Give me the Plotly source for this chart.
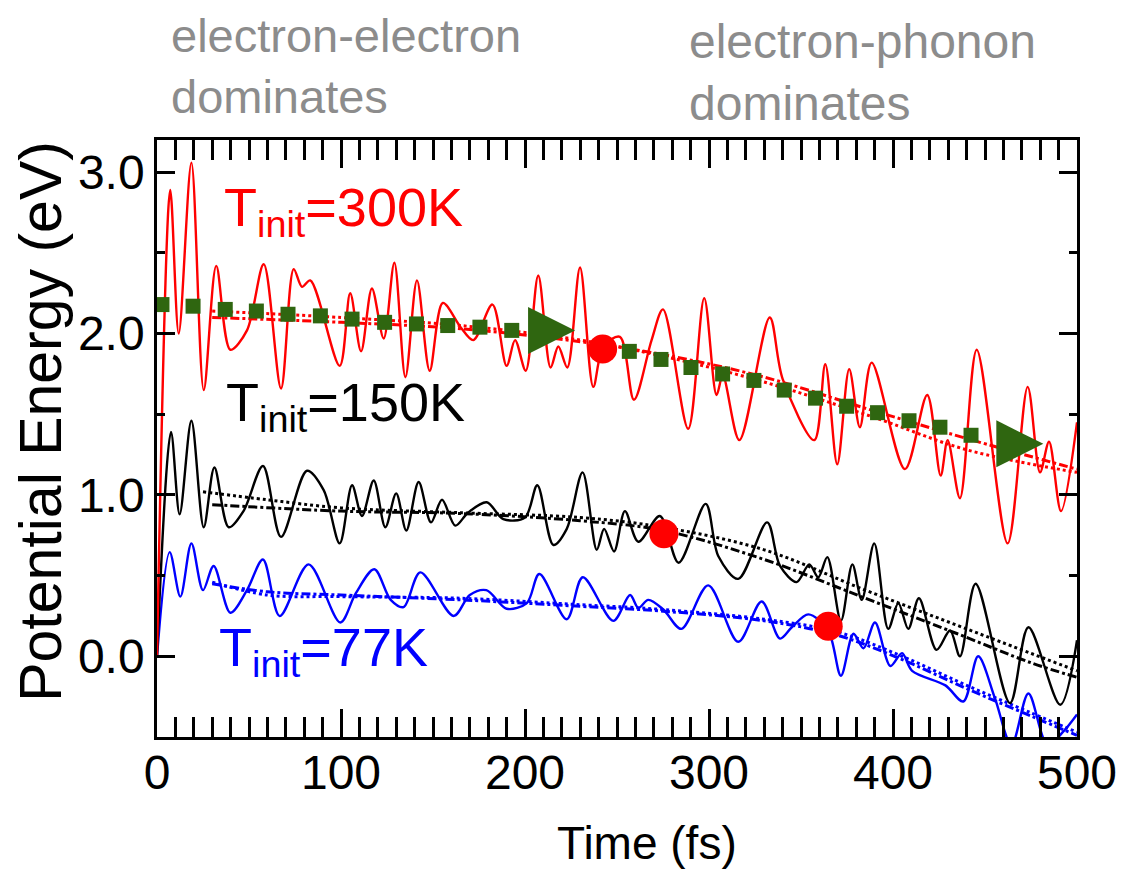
import plotly.graph_objects as go

# ---------------- data ----------------
red_t = [0, 7.2, 11.8, 18.7, 25.4, 32.2, 39.9, 48.9, 58.0, 67.4,
         74.3, 78.8, 83.3, 99.3, 105.0, 110.9, 116.8, 123.2, 129.0, 135.0,
         141.3, 148.2, 155.3, 165.0, 171.9, 182.3, 190.0, 194.6, 200.4, 207.2,
         213.9, 218.1, 223.0, 229.9, 237.1, 242.6, 251.6, 259.2, 268.8, 275.0,
         288.7, 297.4, 304.1, 307.5, 316.5, 333.0, 340.0, 357.2, 363.2, 369.7,
         376.2, 382.0, 388.4, 406.5, 418.6, 425.9, 429.7, 436.4, 445.5, 462.3,
         473.2, 479.9, 484.8, 491.3, 500]
red_e = [0, 2.89, 2.00, 3.06, 1.65, 2.42, 1.90, 2.02, 2.43, 1.66,
         2.40, 2.29, 2.33, 1.80, 2.25, 1.89, 2.28, 1.97, 2.44, 1.73,
         2.33, 1.77, 2.19, 2.04, 1.96, 2.18, 1.80, 1.96, 1.77, 2.36,
         1.79, 1.92, 1.79, 2.41, 1.67, 1.92, 1.98, 1.59, 1.96, 2.15,
         1.41, 2.22, 1.62, 1.74, 1.34, 2.10, 1.72, 1.34, 1.81, 1.19,
         1.78, 1.42, 1.82, 1.16, 1.62, 1.12, 1.34, 0.98, 1.90, 0.70,
         1.67, 1.14, 1.33, 0.90, 1.45]

black_t = [0, 7.6, 12.3, 18.7, 25.4, 31.2, 39.0, 47.0, 57.6, 67.4,
           81.5, 90.6, 99.3, 106.0, 111.4, 117.8, 124.1, 130.0, 135.5, 142.2,
           148.9, 154.9, 162.1, 169.0, 179.2, 188.2, 200.0, 206.7, 215.4, 222.7,
           231.3, 239.0, 243.0, 248.4, 254.3, 261.6, 273.3, 283.5, 298.2, 305.1,
           315.9, 331.6, 338.6, 347.6, 354.5, 359.4, 364.3, 371.7, 377.9, 383.0,
           389.8, 397.4, 402.9, 408.3, 414.1, 423.7, 431.0, 436.4, 444.9, 463.6,
           473.6, 490.9, 500]
black_e = [0, 1.39, 0.88, 1.46, 0.80, 1.17, 0.80, 0.90, 1.18, 0.74,
           1.15, 1.03, 0.70, 1.06, 0.87, 1.09, 0.80, 1.01, 0.78, 1.08,
           0.83, 0.97, 0.81, 0.89, 0.955, 0.85, 0.86, 1.06, 0.69, 0.79,
           1.14, 0.66, 0.79, 0.65, 0.90, 0.71, 0.87, 0.58, 0.945, 0.62,
           0.48, 0.83, 0.56, 0.46, 0.57, 0.49, 0.615, 0.22, 0.57, 0.35,
           0.70, 0.17, 0.33, 0.17, 0.36, 0.04, 0.16, 0.0, 0.45, -0.29,
           0.18, -0.30, 0.10]

blue_t = [0, 6.9, 12.7, 18.7, 25.0, 30.8, 39.9, 48.9, 57.6, 66.7,
          82.4, 99.6, 108.0, 118.1, 127.0, 134.0, 143.1, 161.2, 170.0, 179.0,
          190.0, 201.0, 207.8, 222.7, 231.4, 248.0, 257.1, 261.6, 267.0, 275.2,
          285.0, 299.6, 315.9, 328.6, 338.6, 345.0, 354.0, 364.8, 371.7, 378.5,
          384.0, 390.2, 398.6, 404.9, 410.4, 428.5, 438.2, 446.3, 455.4, 464.4,
          473.6, 484.0, 493.0, 500]
blue_e = [0, 0.646, 0.37, 0.70, 0.41, 0.56, 0.27, 0.41, 0.60, 0.25,
          0.57, 0.21, 0.39, 0.54, 0.35, 0.305, 0.52, 0.25, 0.38, 0.41,
          0.295, 0.33, 0.51, 0.23, 0.49, 0.22, 0.38, 0.30, 0.35, 0.29,
          0.17, 0.44, 0.09, 0.34, 0.11, 0.18, 0.26, 0.16, -0.12, 0.14,
          0.05, 0.21, -0.06, 0.02, -0.09, -0.18, -0.28, 0.0, -0.26, -0.55,
          -0.23, -0.55, -0.46, -0.36]

# fitted trends
red_fit_t = [30, 100, 165, 230, 275, 330, 390, 440, 500]
red_dash_e = [2.10, 2.07, 2.03, 1.95, 1.87, 1.73, 1.52, 1.35, 1.16]
red_dot_e = [2.14, 2.10, 2.05, 1.96, 1.86, 1.70, 1.48, 1.28, 1.14]

black_dash_t = [30, 100, 165, 230, 275, 330, 385, 435, 475, 500]
black_dash_e = [0.94, 0.90, 0.885, 0.84, 0.78, 0.60, 0.36, 0.14, -0.04, -0.13]
black_dot_t = [25, 60, 100, 165, 230, 275, 330, 385, 440, 500]
black_dot_e = [1.02, 0.97, 0.92, 0.89, 0.86, 0.80, 0.66, 0.41, 0.17, -0.09]

blue_fit_t = [30, 60, 100, 165, 230, 275, 330, 370, 405, 440, 475, 500]
blue_dash_e = [0.45, 0.40, 0.38, 0.35, 0.31, 0.28, 0.22, 0.13, -0.02, -0.20, -0.37, -0.49]
blue_dot_e = [0.46, 0.38, 0.37, 0.36, 0.32, 0.29, 0.23, 0.15, 0.0, -0.18, -0.35, -0.47]

# green guide: squares and arrow heads
green_t = [2.7, 19.6, 37.1, 54.0, 71.2, 88.8, 106.0, 123.7, 141.0, 158.0, 175.5, 192.8,
           256.7, 273.9, 290.2, 307.4, 324.4, 340.9, 357.9, 374.8, 391.6, 408.7, 425.5, 442.4]
green_e = [2.18, 2.17, 2.15, 2.14, 2.12, 2.11, 2.09, 2.07, 2.06, 2.05, 2.04, 2.02,
           1.89, 1.84, 1.79, 1.75, 1.71, 1.65, 1.60, 1.55, 1.51, 1.46, 1.42, 1.37]
arrow_t = [227.2, 481.7]
arrow_e = [2.02, 1.317]

# crossover points
cross_t = [242.2, 275.5, 364.8]
cross_e = [1.905, 0.76, 0.186]

x_ticks = [0, 100, 200, 300, 400, 500]
y_ticks = [0, 1, 2, 3]

RED = "#ff0000"
BLUE = "#0000ff"
BLACK = "#000000"
GREEN = "#2f6610"
GRAY = "#8c8c8c"
FONT = "Liberation Sans, Arial, Helvetica, sans-serif"

fig = go.Figure()

def osc(t, e, color):
    fig.add_trace(go.Scatter(x=t, y=e, mode="lines",
                             line=dict(color=color, width=2.4, shape="spline", smoothing=0.9),
                             hoverinfo="skip"))

def fit(t, e, color, dash):
    fig.add_trace(go.Scatter(x=t, y=e, mode="lines",
                             line=dict(color=color, width=3, dash=dash, shape="spline"),
                             hoverinfo="skip"))

osc(blue_t, blue_e, BLUE)
fit(blue_fit_t, blue_dash_e, BLUE, "dashdot")
fit(blue_fit_t, blue_dot_e, BLUE, "dot")
osc(black_t, black_e, BLACK)
fit(black_dash_t, black_dash_e, BLACK, "dashdot")
fit(black_dot_t, black_dot_e, BLACK, "dot")
osc(red_t, red_e, RED)
fit(red_fit_t, red_dash_e, RED, "dashdot")
fit(red_fit_t, red_dot_e, RED, "dot")

fig.add_trace(go.Scatter(x=green_t, y=green_e, mode="markers",
                         marker=dict(symbol="square", size=15, color=GREEN), hoverinfo="skip"))
fig.add_trace(go.Scatter(x=arrow_t, y=arrow_e, mode="markers",
                         marker=dict(symbol="arrow-right", size=47, color=GREEN), hoverinfo="skip"))
fig.add_trace(go.Scatter(x=cross_t, y=cross_e, mode="markers",
                         marker=dict(symbol="circle", size=29, color=RED), hoverinfo="skip"))

axis_common = dict(showline=True, linecolor="black", linewidth=2.5, mirror="allticks",
                   ticks="inside", tickcolor="black", tickwidth=2.5,
                   showgrid=False, zeroline=False,
                   tickfont=dict(family=FONT, size=48, color="black"))

fig.update_xaxes(range=[0, 500], tickmode="array", tickvals=x_ticks,
                 ticktext=[str(v) for v in x_ticks], ticklen=28,
                 minor=dict(dtick=10, ticklen=20, tickwidth=2.5, tickcolor="black", ticks="inside"),
                 ticklabelstandoff=-8,
                 **axis_common)
fig.update_yaxes(range=[-0.5, 3.2], tickmode="array", tickvals=y_ticks,
                 ticktext=[f"{v:.1f}" for v in y_ticks], ticklen=18,
                 minor=dict(dtick=0.5, ticklen=8, tickwidth=2.5, tickcolor="black", ticks="inside"),
                 ticklabelstandoff=0,
                 **axis_common)

# axis titles
fig.add_annotation(x=0.533, y=-0.178, xref="paper", yref="paper", xanchor="center", yanchor="middle",
                   showarrow=False, text="Time (fs)", font=dict(family=FONT, size=46, color="black"))
fig.add_annotation(x=-0.126, y=0.528, xref="paper", yref="paper", xanchor="center", yanchor="middle",
                   showarrow=False, textangle=-90, text="Potential Energy (eV)", borderpad=0,
                   font=dict(family=FONT, size=59, color="black"))

# regime labels
fig.add_annotation(x=0.014, y=1.124, xref="paper", yref="paper", xanchor="left", yanchor="middle",
                   align="left", showarrow=False, text="electron-electron<br>dominates", borderpad=0,
                   font=dict(family=FONT, size=47, color=GRAY))
fig.add_annotation(x=0.577, y=1.113, xref="paper", yref="paper", xanchor="left", yanchor="middle",
                   align="left", showarrow=False, text="electron-phonon<br>dominates", borderpad=0,
                   font=dict(family=FONT, size=48, color=GRAY))

# series labels
fig.add_annotation(x=35.3, y=2.76, xanchor="left", yanchor="middle", showarrow=False,
                   text="T<sub>init</sub>=300K", font=dict(family=FONT, size=54, color=RED))
fig.add_annotation(x=36.4, y=1.55, xanchor="left", yanchor="middle", showarrow=False,
                   text="T<sub>init</sub>=150K", font=dict(family=FONT, size=54, color=BLACK))
fig.add_annotation(x=32.6, y=0.03, xanchor="left", yanchor="middle", showarrow=False,
                   text="T<sub>init</sub>=77K", font=dict(family=FONT, size=54, color=BLUE))

# page body adds an 8px margin, so the figure is 8px smaller than the window
fig.update_layout(width=1116, height=869, showlegend=False,
                  paper_bgcolor="white", plot_bgcolor="white",
                  margin=dict(l=149, r=47, t=132, b=140, autoexpand=False),
                  font=dict(family=FONT))

fig.write_html("out.html")
